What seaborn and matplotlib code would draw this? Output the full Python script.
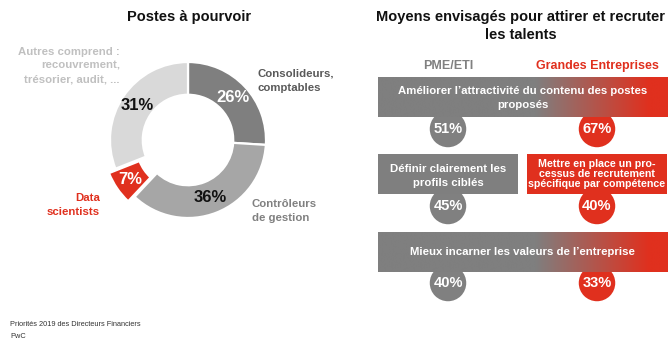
import numpy as np
import matplotlib
matplotlib.use("Agg")
import matplotlib.pyplot as plt
from matplotlib.colors import LinearSegmentedColormap
from matplotlib.patches import Rectangle
import seaborn as sns
import pandas as pd

# ---- Donut: positions to fill ----
poste_labels = ["Consolideurs,\ncomptables", "Contrôleurs\nde gestion",
                "Data\nscientists", "Autres comprend :\nrecouvrement,\ntrésorier, audit, ..."]
poste_values = [26, 36, 7, 31]

# ---- Means considered to attract talent ----
groups = ["PME/ETI", "Grandes Entreprises"]
actions = [
    "Améliorer l’attractivité du contenu des postes\nproposés",
    "Définir clairement les\nprofils ciblés",
    "Mettre en place un pro-\ncessus de recrutement\nspécifique par compétence",
    "Mieux incarner les valeurs de l’entreprise",
]
pme_values = [51, 45, 40]
ge_values = [67, 40, 33]

sns.set_theme(style="white")
plt.rcParams["font.family"] = ["Liberation Sans", "DejaVu Sans"]

GREY = "#7f7f7f"
RED = "#e0301e"
donut_colors = ["#7f7f7f", "#a6a6a6", RED, "#d9d9d9"]

W, H = 670, 348
fig = plt.figure(figsize=(W / 100, H / 100), dpi=100)
fig.patch.set_facecolor("white")

# Full-figure canvas in pixel units (y downwards)
ax = fig.add_axes([0, 0, 1, 1])
ax.set_xlim(0, W)
ax.set_ylim(H, 0)
ax.axis("off")

# ---------------- Left panel: donut ----------------
ax.text(189, 17, "Postes à pourvoir", ha="center", va="center",
        fontsize=10.5, fontweight="bold", color="#111111")

cx, cy, R = 188, 140, 78
axd = fig.add_axes([(cx - R) / W, (H - cy - R) / H, 2 * R / W, 2 * R / H])
wedges, _, pcts = axd.pie(
    poste_values, colors=donut_colors, startangle=90, counterclock=False,
    explode=[0, 0, 0.1, 0], radius=1,
    autopct=lambda p: f"{round(p)}%", pctdistance=0.79,
    wedgeprops=dict(width=0.42, edgecolor="white", linewidth=1.6),
)
axd.set_xlim(-1, 1)
axd.set_ylim(-1, 1)
axd.axis("off")
for w in wedges:
    w.set_clip_on(False)
for t, c in zip(pcts, ["white", "#111111", "white", "#111111"]):
    t.set_color(c)
    t.set_fontsize(12)
    t.set_fontweight("bold")
    t.set_clip_on(False)

lab_kw = dict(fontsize=8.2, fontweight="bold", linespacing=1.5, va="center")
ax.text(258, 81, poste_labels[0], ha="left", color="#595959", **lab_kw)
ax.text(252, 211, poste_labels[1], ha="left", color="#808080", **lab_kw)
ax.text(100, 205, poste_labels[2], ha="right", color=RED,
        multialignment="right", **lab_kw)
ax.text(120, 66, poste_labels[3], ha="right", color="#c0c0c0",
        multialignment="right", **lab_kw)

ax.text(10, 325, "Priorités 2019 des Directeurs Financiers", ha="left",
        va="center", fontsize=5.3, color="#333333")
ax.text(10, 337, "PwC", ha="left", va="center", fontsize=5.3, color="#333333")

# ---------------- Right panel: means ----------------
ax.text(521, 26, "Moyens envisagés pour attirer et recruter\nles talents",
        ha="center", va="center", fontsize=10.5, fontweight="bold",
        color="#111111", linespacing=1.3)

col_x = [448, 597]
ax.text(col_x[0], 66, groups[0], ha="center", va="center", fontsize=9,
        fontweight="bold", color="#808080")
ax.text(col_x[1], 66, groups[1], ha="center", va="center", fontsize=9,
        fontweight="bold", color=RED)

grad_cmap = LinearSegmentedColormap.from_list("g2", [GREY, RED])


def gradient_bar(x0, x1, y0, y1):
    xs = np.linspace(x0, x1, 400)
    t = np.clip((xs - 535) / (650 - 535), 0, 1)
    ax.imshow(t[None, :], cmap=grad_cmap, vmin=0, vmax=1, aspect="auto",
              extent=[x0, x1, y1, y0], zorder=3, interpolation="bilinear")


def flat_bar(x0, x1, y0, y1, color):
    ax.add_patch(Rectangle((x0, y0), x1 - x0, y1 - y0, color=color,
                           zorder=3, linewidth=0))


bar_kw = dict(ha="center", va="center", color="white", fontweight="bold",
              zorder=5)

# Row 1 (shared)
gradient_bar(378, 668, 77, 117)
ax.text(523, 98, actions[0], fontsize=8.2, linespacing=1.4, **bar_kw)
# Row 2 (split)
flat_bar(378, 518, 154, 194, GREY)
ax.text(448, 176, actions[1], fontsize=8.2, linespacing=1.4, **bar_kw)
flat_bar(527, 667, 154, 194, RED)
ax.text(597, 174, actions[2], fontsize=7.7, linespacing=1.06, **bar_kw)
# Row 3 (shared)
gradient_bar(378, 668, 232, 272)
ax.text(522, 252, actions[3], fontsize=8.2, **bar_kw)

ax.set_xlim(0, W)
ax.set_ylim(H, 0)

# Percentage bubbles below each bar
row_y = [129, 206, 283]
bubbles = pd.DataFrame({
    "x": col_x * 3,
    "y": [y for y in row_y for _ in range(2)],
    "value": [v for pair in zip(pme_values, ge_values) for v in pair],
    "group": groups * 3,
})
sns.scatterplot(data=bubbles, x="x", y="y", hue="group",
                palette={groups[0]: "#808080", groups[1]: RED},
                s=690, linewidth=0, legend=False, ax=ax, zorder=2)
for _, r in bubbles.iterrows():
    ax.text(r["x"], r["y"], f"{r['value']}%", ha="center", va="center",
            fontsize=10.5, fontweight="bold", color="white", zorder=4)

ax.set_xlim(0, W)
ax.set_ylim(H, 0)
ax.set_xlabel("")
ax.set_ylabel("")
ax.axis("off")

fig.savefig("out.png", dpi=100, facecolor="white")
